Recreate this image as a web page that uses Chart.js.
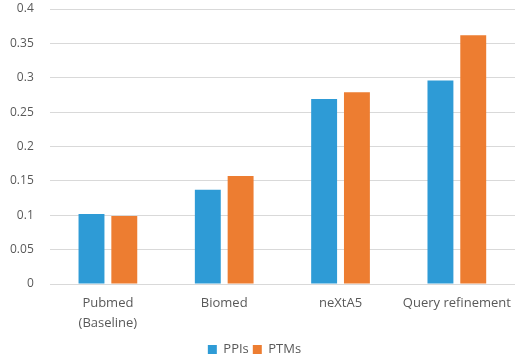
<!DOCTYPE html>
<html><head><meta charset="utf-8">
<script src="https://cdn.jsdelivr.net/npm/chart.js@4/dist/chart.umd.min.js"></script>
<style>html,body{margin:0;padding:0;background:#fff}#wrap{width:520px;height:356px}</style>
</head><body><div id="wrap"><canvas id="c"></canvas></div>
<script>
const categories = [["Pubmed","(Baseline)"], "Biomed", "neXtA5", "Query refinement"];
const ppis = [0.102, 0.137, 0.269, 0.296];
const ptms = [0.099, 0.157, 0.279, 0.362];
const yTicks = [0, 0.05, 0.1, 0.15, 0.2, 0.25, 0.3, 0.35, 0.4];

Chart.defaults.font.family = "'Open Sans', 'DejaVu Sans', sans-serif";
Chart.defaults.font.size = 12;
Chart.defaults.color = '#595959';

new Chart(document.getElementById('c'), {
  type: 'bar',
  data: {
    labels: categories,
    datasets: [
      {label: 'PPIs', data: ppis, backgroundColor: '#2E9BD6', categoryPercentage: 0.564, barPercentage: 0.79},
      {label: 'PTMs', data: ptms, backgroundColor: '#ED7D31', categoryPercentage: 0.564, barPercentage: 0.79}
    ]
  },
  options: {
    responsive: true, maintainAspectRatio: false, animation: false,
    layout: {padding: {top: 9, right: 5, left: -6, bottom: -10}},
    plugins: {
      legend: {position: 'bottom', labels: {boxWidth: 9, boxHeight: 9, padding: 4, font: {size: 13}}},
      tooltip: {enabled: false}
    },
    scales: {
      x: {grid: {display: false}, border: {display: false},
          afterFit: s => { s.height += 4; },
          ticks: {padding: 2, maxRotation: 0, font: {size: 13, lineHeight: 1.5}}},
      y: {min: 0, max: 0.4, afterBuildTicks: ax => { ax.ticks = yTicks.map(v => ({value: v})); },
          afterFit: s => { s.paddingTop = 0; s.paddingBottom = 0; },
          grid: {color: '#d9d9d9', lineWidth: 1, drawTicks: false}, border: {display: false},
          ticks: {padding: 16, callback: v => String(v)}}
    }
  }
});
</script></body></html>
